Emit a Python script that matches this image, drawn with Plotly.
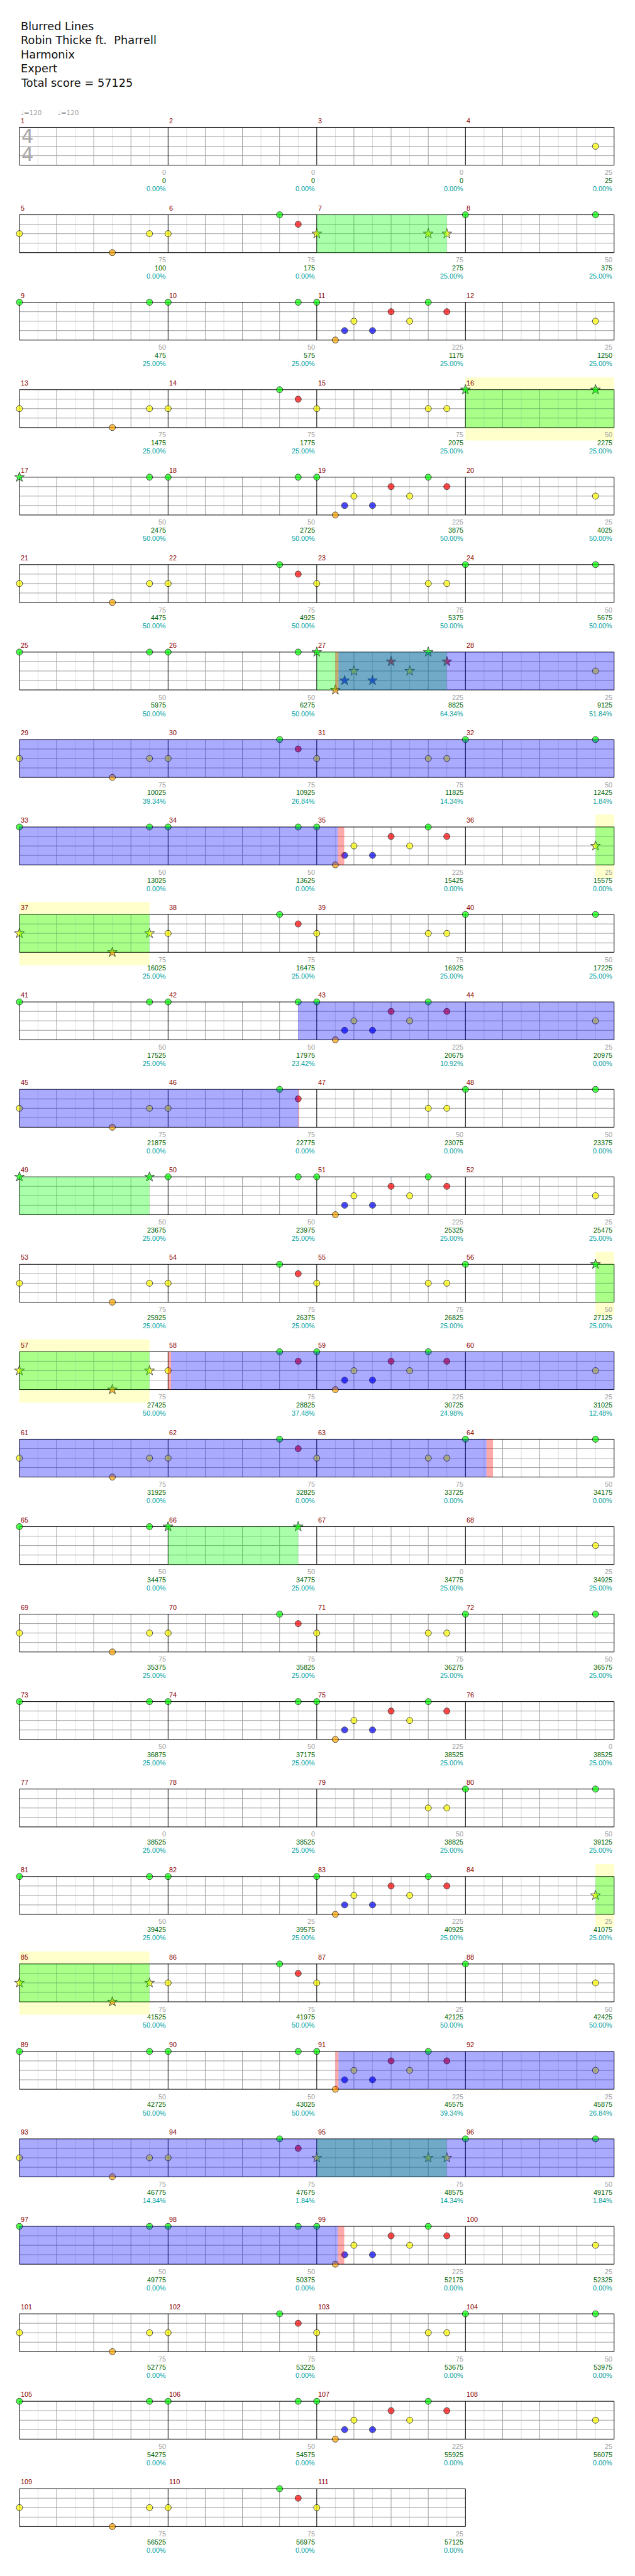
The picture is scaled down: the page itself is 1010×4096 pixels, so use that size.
import plotly.graph_objects as go

# ---------------- data ----------------
title_lines = ["Blurred Lines", "Robin Thicke ft.\u00a0 Pharrell", "Harmonix", "Expert", "Total score = 57125"]
n_measures = 111
tempo_labels = ["\u2669=120", "\u2669=120"]
tempo_times = [0.0, 0.25]

# notes per lane: (measure, eighth-position, star)
green_notes = [(6,6,0),(8,0,0),(8,7,0),(9,0,0),(9,7,0),(10,0,0),(10,7,0),(11,0,0),(11,6,0),(14,6,0),
               (16,0,1),(16,7,1),(17,0,1),(17,7,0),(18,0,0),(18,7,0),(19,0,0),(19,6,0),(22,6,0),(24,0,0),(24,7,0),
               (25,0,0),(25,7,0),(26,0,0),(26,7,0),(27,0,1),(27,6,1),(30,6,0),(32,0,0),(32,7,0),(33,0,0),(33,7,0),
               (34,0,0),(34,7,0),(35,0,0),(35,6,0),(38,6,0),(40,0,0),(40,7,0),(41,0,0),(41,7,0),(42,0,0),(42,7,0),
               (43,0,0),(43,6,0),(46,6,0),(48,0,0),(48,7,0),(49,0,1),(49,7,1),(50,0,0),(50,7,0),(51,0,0),(51,6,0),
               (54,6,0),(56,0,0),(56,7,1),(58,6,0),(59,0,0),(59,6,0),(62,6,0),(64,0,0),(64,7,0),
               (65,0,0),(65,7,0),(66,0,1),(66,7,1),(70,6,0),(72,0,0),(72,7,0),(73,0,0),(73,7,0),(74,0,0),(74,7,0),
               (75,0,0),(75,6,0),(80,0,0),(80,7,0),(81,0,0),(81,7,0),(82,0,0),(83,0,0),(83,6,0),(86,6,0),(88,0,0),
               (89,0,0),(89,7,0),(90,0,0),(90,7,0),(91,0,0),(91,6,0),(94,6,0),(96,0,0),(96,7,0),(97,0,0),(97,7,0),
               (98,0,0),(98,7,0),(99,0,0),(99,6,0),(102,6,0),(104,0,0),(104,7,0),(105,0,0),(105,7,0),(106,0,0),
               (106,7,0),(107,0,0),(107,6,0),(110,6,0)]
red_notes = [(6,7,0),(11,4,0),(11,7,0),(14,7,0),(19,4,0),(19,7,0),(22,7,0),(27,4,1),(27,7,1),(30,7,0),
             (35,4,0),(35,7,0),(38,7,0),(43,4,0),(43,7,0),(46,7,0),(51,4,0),(51,7,0),
             (54,7,0),(58,7,0),(59,4,0),(59,7,0),(62,7,0),(70,7,0),(75,4,0),(75,7,0),(83,4,0),(83,7,0),
             (86,7,0),(91,4,0),(91,7,0),(94,7,0),(99,4,0),(99,7,0),(102,7,0),(107,4,0),(107,7,0),(110,7,0)]
yellow_notes = [(4,7,0),(5,0,0),(5,7,0),(6,0,0),(7,0,1),(7,6,1),(7,7,1),(11,2,0),(11,5,0),(12,7,0),(13,0,0),
                (13,7,0),(14,0,0),(15,0,0),(15,6,0),(15,7,0),(19,2,0),(19,5,0),(20,7,0),(21,0,0),(21,7,0),(22,0,0),
                (23,0,0),(23,6,0),(23,7,0),(27,2,1),(27,5,1),(28,7,0),(29,0,0),(29,7,0),(30,0,0),(31,0,0),(31,6,0),
                (31,7,0),(35,2,0),(35,5,0),(36,7,1),(37,0,1),(37,7,1),(38,0,0),(39,0,0),(39,6,0),(39,7,0),(43,2,0),
                (43,5,0),(44,7,0),(45,0,0),(45,7,0),(46,0,0),(47,6,0),(47,7,0),(51,2,0),(51,5,0),(52,7,0),
                (53,0,0),(53,7,0),(54,0,0),(55,0,0),(55,6,0),(55,7,0),(57,0,1),(57,7,1),(58,0,0),(59,2,0),
                (59,5,0),(60,7,0),(61,0,0),(61,7,0),(62,0,0),(63,0,0),(63,6,0),(63,7,0),(68,7,0),(69,0,0),(69,7,0),
                (70,0,0),(71,0,0),(71,6,0),(71,7,0),(75,2,0),(75,5,0),(79,6,0),(79,7,0),(83,2,0),(83,5,0),(84,7,1),
                (85,0,1),(85,7,1),(86,0,0),(87,0,0),(88,7,0),(91,2,0),(91,5,0),(92,7,0),(93,0,0),(93,7,0),(94,0,0),
                (95,0,1),(95,6,1),(95,7,1),(99,2,0),(99,5,0),(100,7,0),(101,0,0),(101,7,0),(102,0,0),(103,0,0),
                (103,6,0),(103,7,0),(107,2,0),(107,5,0),(108,7,0),(109,0,0),(109,7,0),(110,0,0),(111,0,0)]
blue_notes = [(11,1.5,0),(11,3,0),(19,1.5,0),(19,3,0),(27,1.5,1),(27,3,1),(35,1.5,0),(35,3,0),
              (43,1.5,0),(43,3,0),(51,1.5,0),(51,3,0),(59,1.5,0),(59,3,0),(75,1.5,0),(75,3,0),
              (83,1.5,0),(83,3,0),(91,1.5,0),(91,3,0),(99,1.5,0),(99,3,0),(107,1.5,0),(107,3,0)]
orange_notes = [(5,5,0),(11,1,0),(13,5,0),(19,1,0),(21,5,0),(27,1,1),(29,5,0),(35,1,0),(37,5,1),
                (43,1,0),(45,5,0),(51,1,0),(53,5,0),(57,5,1),(59,1,0),(61,5,0),(69,5,0),(75,1,0),
                (83,1,0),(85,5,1),(91,1,0),(93,5,0),(99,1,0),(101,5,0),(107,1,0),(109,5,0)]

gray_vals = ["0","0","0","25","75","75","75","50","50","50","225","25","75","75","75","50",
             "50","50","225","25","75","75","75","50","50","50","225","25","75","75","75","50",
             "50","50","225","25","75","75","75","50","50","50","225","25","75","75","50","50",
             "50","50","225","25","75","75","75","50","75","75","225","25","75","75","75","50",
             "50","50","0","25","75","75","75","50","50","50","225","0","0","0","50","50",
             "50","25","225","25","75","75","25","50","50","50","225","25","75","75","75","50",
             "50","50","225","25","75","75","75","50","50","50","225","25","75","75","25"]
score_vals = ["0","0","0","25","100","175","275","375","475","575","1175","1250","1475","1775","2075","2275",
              "2475","2725","3875","4025","4475","4925","5375","5675","5975","6275","8825","9125",
              "10025","10925","11825","12425","13025","13625","15425","15575","16025","16475","16925","17225",
              "17525","17975","20675","20975","21875","22775","23075","23375","23675","23975","25325","25475",
              "25925","26375","26825","27125","27425","28825","30725","31025","31925","32825","33725","34175",
              "34475","34775","34775","34925","35375","35825","36275","36575","36875","37175","38525","38525",
              "38525","38525","38825","39125","39425","39575","40925","41075","41525","41975","42125","42425",
              "42725","43025","45575","45875","46775","47675","48575","49175","49775","50375","52175","52325",
              "52775","53225","53675","53975","54275","54575","55925","56075","56525","56975","57125"]
pct_vals = ["0.00%","0.00%","0.00%","0.00%","0.00%","0.00%","25.00%","25.00%","25.00%","25.00%","25.00%","25.00%",
            "25.00%","25.00%","25.00%","25.00%","50.00%","50.00%","50.00%","50.00%","50.00%","50.00%","50.00%","50.00%",
            "50.00%","50.00%","64.34%","51.84%","39.34%","26.84%","14.34%","1.84%","0.00%","0.00%","0.00%","0.00%",
            "25.00%","25.00%","25.00%","25.00%","25.00%","23.42%","10.92%","0.00%","0.00%","0.00%","0.00%","0.00%",
            "25.00%","25.00%","25.00%","25.00%","25.00%","25.00%","25.00%","25.00%",
            "50.00%","37.48%","24.98%","12.48%","0.00%","0.00%","0.00%","0.00%",
            "0.00%","25.00%","25.00%","25.00%","25.00%","25.00%","25.00%","25.00%",
            "25.00%","25.00%","25.00%","25.00%","25.00%","25.00%","25.00%","25.00%",
            "25.00%","25.00%","25.00%","25.00%","50.00%","50.00%","50.00%","50.00%",
            "50.00%","50.00%","39.34%","26.84%","14.34%","1.84%","14.34%","1.84%",
            "0.00%","0.00%","0.00%","0.00%","0.00%","0.00%","0.00%","0.00%",
            "0.00%","0.00%","0.00%","0.00%","0.00%","0.00%","0.00%"]

# overlays, in measures from song start
phrase_ranges = [(6.0, 6.875), (15.0, 16.0), (26.0, 26.875), (35.875, 36.875), (48.0, 48.875),
                 (55.875, 56.875), (65.0, 65.875), (83.875, 84.875), (94.0, 94.875)]
solo_ranges = [(15.0, 16.0), (35.875, 36.875), (55.875, 56.875), (83.875, 84.875)]
od_ranges = [(26.146, 34.142), (41.874, 45.876), (57.02, 63.142), (90.146, 98.142)]
act_ranges = [(26.125, 26.146), (34.142, 34.185), (45.876, 45.882), (57.0, 57.02), (63.142, 63.185),
              (90.125, 90.146), (98.142, 98.185)]

# ---------------- geometry (reference pixels) ----------------
REF_W, REF_H = 1024, 4153
FIG_W, FIG_H = 1010, 4096
SC = FIG_W / REF_W
MEAS_PX = 239.75
LANE_PX = 15.25
ROW_PX = 141.0
LEFT_PX = 31.3
TOP_PX = 205.3
ROW_P = ROW_PX / LANE_PX
MPR = 4
n_rows = (n_measures + MPR - 1) // MPR

def row_len(r):
    return min(MPR, n_measures - r * MPR)

def py(px):
    return px / LANE_PX

lane_colors = ["#00ff00", "#ff0000", "#ffff00", "#0000ff", "#ffa500"]
lane_notes = [green_notes, red_notes, yellow_notes, blue_notes, orange_notes]

fig = go.Figure()

def add_lines(segs, color, width=1):
    xs, ys = [], []
    for (x0, y0, x1, y1) in segs:
        xs += [x0, x1, None]
        ys += [y0, y1, None]
    fig.add_trace(go.Scatter(x=xs, y=ys, mode="lines", line=dict(color=color, width=width),
                             hoverinfo="skip", showlegend=False))

light, beat, hgray, black = [], [], [], []
for r in range(n_rows):
    nm = row_len(r)
    y0 = r * ROW_P
    for m in range(nm):
        for j in range(8):
            x = m + j / 8
            if j % 2 == 1:
                light.append((x, y0, x, y0 + 4))
            elif j > 0:
                beat.append((x, y0, x, y0 + 4))
    for l in (1, 2, 3):
        hgray.append((0, y0 + l, nm, y0 + l))
    for m in range(nm + 1):
        black.append((m, y0, m, y0 + 4))
    black.append((0, y0, nm, y0))
    black.append((0, y0 + 4, nm, y0 + 4))
add_lines(light, "#dcdcdc")
add_lines(beat, "#a0a0a0")
add_lines(hgray, "#a0a0a0")
add_lines(black, "#000000")

for lane, notes in enumerate(lane_notes):
    xs, ys, syms, sizes = [], [], [], []
    for (m, e, s) in notes:
        r = (m - 1) // MPR
        xs.append((m - 1) % MPR + e / 8)
        ys.append(r * ROW_P + lane)
        syms.append("star" if s else "circle")
        sizes.append((12 if s else 10) * SC)
    fig.add_trace(go.Scatter(x=xs, y=ys, mode="markers",
                             marker=dict(color=lane_colors[lane], symbol=syms, size=sizes,
                                         line=dict(color="#000000", width=1)),
                             hoverinfo="skip", showlegend=False))

shapes = []
def split_rect(t0, t1, fill, layer, ext_top=0.0, ext_bot=0.0):
    for r in range(n_rows):
        a = max(t0, r * MPR)
        b = min(t1, r * MPR + row_len(r))
        if b > a:
            shapes.append(dict(type="rect", xref="x", yref="y", x0=a - r * MPR, x1=b - r * MPR,
                               y0=r * ROW_P - ext_top, y1=r * ROW_P + 4 + ext_bot,
                               fillcolor=fill, line=dict(width=0), layer=layer))

for (a, b) in solo_ranges:
    split_rect(a, b, "#ffffcc", "below", py(20), py(21))
for (a, b) in phrase_ranges:
    split_rect(a, b, "rgba(0,255,0,0.333)", "above")
for (a, b) in od_ranges:
    split_rect(a, b, "rgba(0,0,255,0.333)", "above")
for (a, b) in act_ranges:
    split_rect(a, b, "rgba(255,0,0,0.333)", "above")

ann = []
FONT_H = "DejaVu Sans"
FONT_S = "Liberation Sans, Arial, sans-serif"
x_text = (31.0 - LEFT_PX) / MEAS_PX
title_y_px = [42.3, 65.0, 88.3, 111.0, 134.0]
for t, yp in zip(title_lines, title_y_px):
    ann.append(dict(x=x_text, y=py(yp - TOP_PX), text=t, xanchor="left", yanchor="middle",
                    showarrow=False, font=dict(family=FONT_H, size=18 * SC, color="#111111")))
for t, tt in zip(tempo_labels, tempo_times):
    ann.append(dict(x=tt, y=py(181.0 - TOP_PX), text=t, xanchor="left", yanchor="middle",
                    showarrow=False, font=dict(family=FONT_H, size=10.5 * SC, color="#a0a0a0")))
for yl in (0.9, 2.85):
    ann.append(dict(x=(44.5 - LEFT_PX) / MEAS_PX, y=yl, text="4", xanchor="center", yanchor="middle",
                    showarrow=False, font=dict(family=FONT_H, size=31 * SC, color="#a8a8a8")))

for m in range(1, n_measures + 1):
    r = (m - 1) // MPR
    xl = (m - 1) % MPR
    ytop = r * ROW_P
    ann.append(dict(x=xl, y=ytop - py(11.0), text=str(m), xanchor="left", yanchor="middle",
                    showarrow=False, font=dict(family=FONT_S, size=11 * SC, color="#8b0000")))
    i = m - 1
    for txt, off, col in ((gray_vals[i], 11.7, "#a0a0a0"), (score_vals[i], 24.7, "#006400"),
                          (pct_vals[i], 38.0, "#00a0a0")):
        ann.append(dict(x=xl + 1, y=ytop + 4 + py(off), text=txt, xanchor="right", yanchor="middle",
                        xshift=-1, showarrow=False,
                        font=dict(family=FONT_S, size=11 * SC, color=col)))

fig.update_layout(
    width=FIG_W, height=FIG_H, margin=dict(l=0, r=0, t=0, b=0),
    paper_bgcolor="white", plot_bgcolor="white",
    xaxis=dict(range=[-LEFT_PX / MEAS_PX, (REF_W - LEFT_PX) / MEAS_PX], visible=False, fixedrange=True),
    yaxis=dict(range=[(REF_H - TOP_PX) / LANE_PX, -TOP_PX / LANE_PX], visible=False, fixedrange=True),
    shapes=shapes, annotations=ann, showlegend=False,
)
fig.write_html("out.html", config={"displayModeBar": False, "staticPlot": True},
               post_script="document.body.style.margin='0';document.body.style.overflow='hidden';")
